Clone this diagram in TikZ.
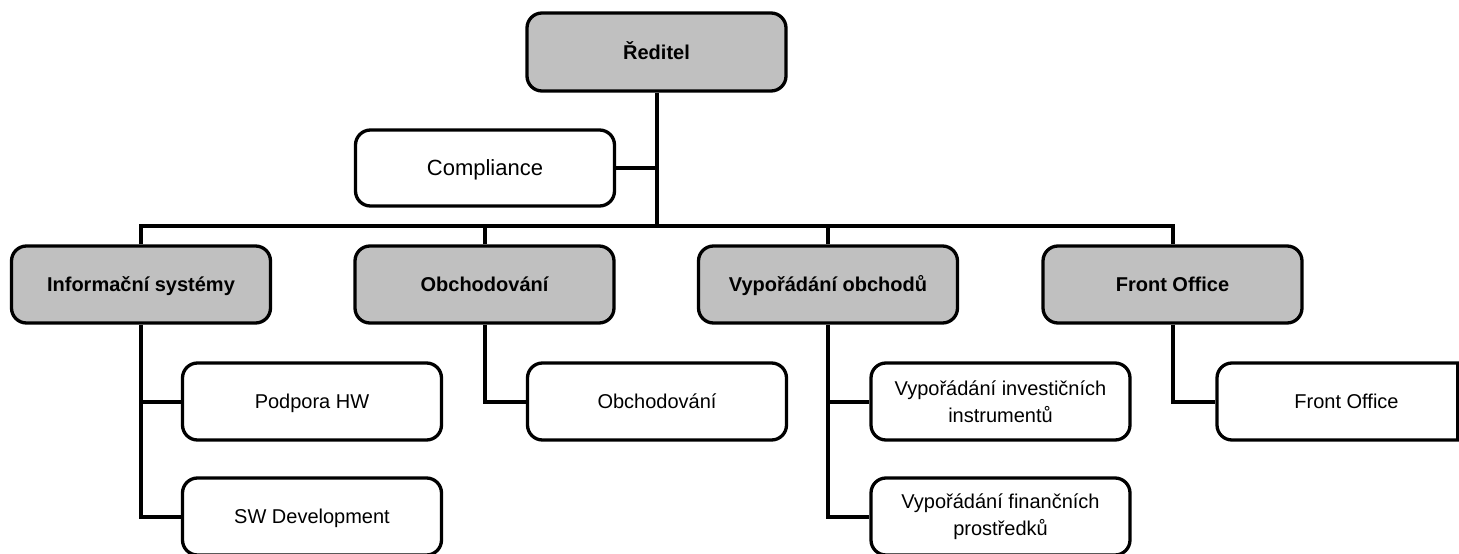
\documentclass[tikz,border=0pt]{standalone}
\usepackage{fontspec}
\setmainfont{Liberation Sans}
\begin{document}
\begin{tikzpicture}[x=1pt,y=-1pt,
  box/.style={draw=black,line width=3.3pt,rounded corners=15pt,fill=white,
    minimum width=259pt,minimum height=77pt,inner sep=2pt,align=center,
    font=\fontsize{20}{27}\selectfont},
  oneline/.style={text height=16pt,text depth=1.6pt},
  headbox/.style={box,oneline,fill=gray75,font=\fontsize{20}{27}\selectfont\bfseries},
  link/.style={draw=black,line width=4pt}]
\definecolor{gray75}{HTML}{C0C0C0}
\useasboundingbox (0,0) rectangle (1459,554);
\clip (0,0) rectangle (1459,554);
% top
\node[headbox,minimum height=78pt] (dir) at (656.5,52) {Ředitel};
\node[box,oneline,minimum height=76pt,font=\fontsize{22}{27}\selectfont] (comp) at (485,168) {Compliance};
% level 2
\node[headbox] (info) at (141,284.5) {Informační systémy};
\node[headbox] (obch) at (484.5,284.5) {Obchodování};
\node[headbox] (vyp) at (828,284.5) {Vypořádání obchodů};
\node[headbox] (front) at (1172.5,284.5) {Front Office};
% level 3
\node[box,oneline] (pod) at (312,401.5) {Podpora HW};
\node[box,oneline] (sw) at (312,516.5) {SW Development};
\node[box,oneline] (obch2) at (657,401.5) {Obchodování};
\node[box] (vi) at (1000.5,401.5) {Vypořádání investičních\\instrumentů};
\node[box] (vf) at (1000.5,516.5) {Vypořádání finančních\\prostředků};
\node[box,oneline] (fo2) at (1346.5,401.5) {Front Office};
\draw[line width=3.3pt] (1457.4,363) -- (1457.4,440);
% connectors
\coordinate (bus) at (656.5,226);
\draw[link] (dir.south) -- (bus);
\draw[link] (comp.east) -- (comp.east -| dir.south);
\draw[link] (info.north) |- (bus) -| (front.north);
\draw[link] (obch.north) -- (obch.north |- bus);
\draw[link] (vyp.north) -- (vyp.north |- bus);
\draw[link] (info.south) |- (sw.west);
\draw[link] (info.south |- pod.west) -- (pod.west);
\draw[link] (obch.south) |- (obch2.west);
\draw[link] (vyp.south) |- (vf.west);
\draw[link] (vyp.south |- vi.west) -- (vi.west);
\draw[link] (front.south) |- (fo2.west);
\end{tikzpicture}
\end{document}
